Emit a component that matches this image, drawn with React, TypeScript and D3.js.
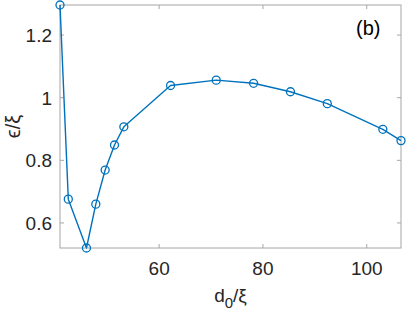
import { useEffect, useRef } from "react";
import * as d3 from "d3";

// d0/xi values along x
const d0 = [40.9, 42.5, 46.0, 47.8, 49.6, 51.4, 53.2, 62.2, 71.0, 78.2, 85.3, 92.4, 103.1, 106.6];
// epsilon/xi values
const eps = [1.296, 0.676, 0.52, 0.66, 0.769, 0.849, 0.907, 1.039, 1.056, 1.046, 1.019, 0.981, 0.899, 0.863];

const xTicks = [60, 80, 100];
const yTicks = [0.6, 0.8, 1, 1.2];

export default function App() {
    const svgRef = useRef<SVGSVGElement>(null);

    useEffect(() => {
        if (!svgRef.current) return;

        const svg = d3.select(svgRef.current);
        svg.selectAll("*").remove();

        const W = 407, H = 315;
        const margin = { top: 5, right: 6, bottom: 67, left: 60 };
        const width = W - margin.left - margin.right;
        const height = H - margin.top - margin.bottom;

        svg.attr("width", W).attr("height", H);

        const g = svg.append("g").attr("transform", `translate(${margin.left},${margin.top})`);

        const pts = d0.map((d, i) => ({ x: d, y: eps[i] }));

        const x = d3.scaleLinear().domain(d3.extent(d0) as [number, number]).range([0, width]);
        const y = d3.scaleLinear().domain(d3.extent(eps) as [number, number]).range([height, 0]);

        const axisColor = "#a6a6a6";
        const textColor = "#262626";
        const font = "Liberation Sans, Arial, sans-serif";
        const tickLen = 4;

        // Box
        g.append("rect")
            .attr("x", 0).attr("y", 0)
            .attr("width", width).attr("height", height)
            .attr("fill", "white")
            .attr("stroke", axisColor)
            .attr("stroke-width", 1);

        // Ticks (inside, all four sides)
        xTicks.forEach(t => {
            const px = x(t);
            g.append("line").attr("x1", px).attr("x2", px).attr("y1", height).attr("y2", height - tickLen).attr("stroke", axisColor);
            g.append("line").attr("x1", px).attr("x2", px).attr("y1", 0).attr("y2", tickLen).attr("stroke", axisColor);
            g.append("text")
                .attr("x", px).attr("y", height + 27)
                .attr("text-anchor", "middle")
                .attr("font-family", font).attr("font-size", "19px")
                .attr("fill", textColor)
                .text(t);
        });

        const yFmt = d3.format(".1~f");
        yTicks.forEach(t => {
            const py = y(t);
            g.append("line").attr("x1", 0).attr("x2", tickLen).attr("y1", py).attr("y2", py).attr("stroke", axisColor);
            g.append("line").attr("x1", width).attr("x2", width - tickLen).attr("y1", py).attr("y2", py).attr("stroke", axisColor);
            g.append("text")
                .attr("x", -8).attr("y", py + 7)
                .attr("text-anchor", "end")
                .attr("font-family", font).attr("font-size", "19px")
                .attr("fill", textColor)
                .text(yFmt(t));
        });

        // Series line
        const line = d3.line<{ x: number; y: number }>()
            .x(d => x(d.x))
            .y(d => y(d.y));

        g.append("path")
            .datum(pts)
            .attr("fill", "none")
            .attr("stroke", "#0072BD")
            .attr("stroke-width", 1.4)
            .attr("stroke-linejoin", "round")
            .attr("d", line);

        g.selectAll("circle.marker")
            .data(pts)
            .enter()
            .append("circle")
            .attr("class", "marker")
            .attr("cx", d => x(d.x))
            .attr("cy", d => y(d.y))
            .attr("r", 4)
            .attr("fill", "none")
            .attr("stroke", "#0072BD")
            .attr("stroke-width", 1.3);

        // Panel label
        g.append("text")
            .attr("x", 296).attr("y", 30)
            .attr("font-family", font).attr("font-size", "20px")
            .attr("fill", "#000")
            .text("(b)");

        // X label
        const xl = g.append("text")
            .attr("x", width / 2).attr("y", height + 54)
            .attr("text-anchor", "middle")
            .attr("font-family", font).attr("font-size", "19px")
            .attr("fill", textColor);
        xl.append("tspan").text("d");
        xl.append("tspan").attr("dy", 6).attr("font-size", "15px").text("0");
        xl.append("tspan").attr("dy", -6).text("/ξ");

        // Y label
        g.append("text")
            .attr("transform", `translate(${-40},${height / 2}) rotate(-90)`)
            .attr("text-anchor", "middle")
            .attr("font-family", font).attr("font-size", "20px")
            .attr("fill", textColor)
            .text("ϵ/ξ");
    }, []);

    return (
        <svg ref={svgRef} style={{ position: "absolute", left: 0, top: 0 }}></svg>
    );
}
